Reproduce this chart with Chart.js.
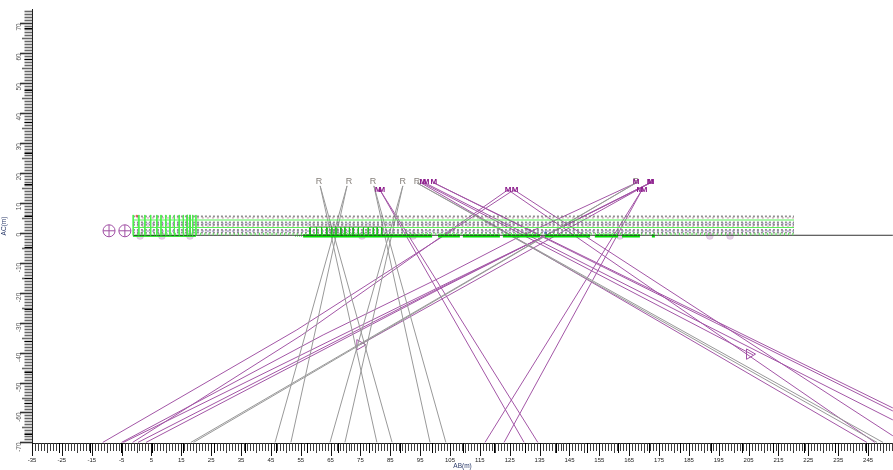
<!DOCTYPE html>
<html><head><meta charset="utf-8">
<style>html,body{margin:0;padding:0;background:#fff}canvas{display:block}</style>
<script src="https://cdn.jsdelivr.net/npm/chart.js@4"></script>
</head><body><canvas id="c" width="893" height="470"></canvas>
<script>
const xTickLabels=[-35,-25,-15,-5,5,15,25,35,45,55,65,75,85,95,105,115,125,135,145,155,165,175,185,195,205,215,225,235,245];
const yTickLabels=[70,60,50,40,30,20,10,0,-10,-20,-30,-40,-50,-60,-70];

const grayRays=[
 [[61.5,15.7],[80.5,-70]],[[61.5,15.7],[85.6,-70]],
 [[70.5,15.7],[46.4,-70]],[[70.5,15.7],[51.7,-70]],
 [[79.5,15.7],[98.3,-70]],[[79.5,15.7],[103.6,-70]],
 [[89.2,15.7],[64.8,-70]],[[89.2,15.7],[69.8,-70]],
 [[167.3,16.7],[18.2,-70]],[[167.3,16.7],[19.1,-70]],
 [[93.9,16.7],[248,-70]],[[93.9,16.7],[250,-70]]
];
const purpleRays=[
 [[169.3,14.4],[116.7,-70]],[[169.3,14.4],[123.1,-70]],
 [[81.5,14.4],[129.8,-70]],[[81.5,14.4],[134.4,-70]],
 [[95.3,16.7],[244.6,-70]],
 [[96.6,16.7],[253.3,-62.5]],
 [[99.6,16.7],[253.3,-58.5]],[[99.6,16.7],[253.3,-59.5]],
 [[124.4,14.4],[247.3,-70]],
 [[126.4,14.4],[253.3,-67.8]],
 [[95.9,16.7],[206.5,-40.8]],
 [[126.4,14.4],[103.3,-0.7],[53.7,-32.4],[-11.3,-70]],
 [[124.4,14.4],[94.3,-6.7],[55.4,-34.1],[-1.3,-70]],
 [[167.3,16.7],[127.4,-1.7],[101.6,-15],[62.5,-34.1],[-5,-70]],
 [[172,16.7],[134.1,-2.3],[101.6,-18],[-4.4,-70]],
 [[172,16.7],[134.1,-2.3],[101.6,-18.4],[0.5,-70]],
 [[172,16.7],[134.1,-2.3],[101.6,-18.7],[3.2,-70]],
 [[172,16.7],[74.8,-37.4]]
];
const seaLevel=[[-1.2,-0.8],[253.3,-0.8]];
const meshX=[-1.2,220.2];
const meshRowsGray=[5.5,3.5,2.7,1.0,0.1];
const meshRowsTint=[5.0,3.1,2.2,0.6];
const meshRowsGreen=[4.3,1.8];
const leftColumnsX=[-1.1,0.8,2.8,4.75,6.8,8.2,9.8,11.2,12.7,14.3,15.7,17,17.9,18.8,19.9];
const combX=[58.1,60.3,62,63.7,65.4,66.8,68.4,69.8,71.3,72.6,74.3,76,77.6,79.3,80.6,82.1];
const combDarkX=[58.1,63.7,68.4,72.6,82.1];
const shoreSegments=[[55.8,99],[101,108.3],[109.3,121.7],[122.7,135.1],[136.8,151.9],[153.5,161.3],[162.6,168.6],[172.6,173.6]];
const surveyMarksX=[1.2,8.5,17.9,75.5,92.6,161.9,192,198.8];
const stationsX=[-9.2,-3.9];
const stationsY=[0.7,0.7];
const triangleX=[74.8,205.3];
const triangleY=[-37.4,-40.5];
const rLabelX=[61.1,71.2,79.2,89.2,93.9,167.3];
const rLabelY=[17,17,17,17,17,17];
const mLabelX=[80.9,82.2,95.9,97,99.6,124.4,126.8,167.3,172,172.3,168.6,170];
const mLabelY=[14.4,14.4,17,17,17,14.4,14.4,17,17,17,14.4,14.4];

const pts=a=>a.map(p=>({x:p[0],y:p[1]}));
const line=(data,color,width,extra)=>Object.assign({type:'scatter',data,showLine:true,borderColor:color,borderWidth:width,pointRadius:0,fill:false,tension:0},extra||{});
const rowPts=y=>[{x:meshX[0],y},{x:meshX[1],y}];
const columns=(xs,top,bot)=>xs.flatMap(x=>[{x,y:top},{x,y:bot},{x,y:null}]);

const datasets=[];
datasets.push(line(columns(leftColumnsX,6,-0.8),'#4df04d',1));
datasets.push(line(columns(combX,1.9,-0.8),'#1bbf1b',1));
meshRowsGray.forEach(y=>datasets.push(line(rowPts(y),'rgba(105,105,105,.75)',1.8,{borderDash:[2,2]})));
meshRowsTint.forEach((y,i)=>datasets.push(line(rowPts(y),i%2?'rgba(170,150,210,.7)':'rgba(205,165,180,.7)',1.6,{borderDash:[2,3],borderDashOffset:1})));
meshRowsGreen.forEach(y=>datasets.push(line(rowPts(y),'#55ee55',1)));
datasets.push(line(rowPts(-0.4),'#55ee55',2.5,{borderDash:[1,3.2]}));
datasets.push(line(columns([17,17.9],6,-0.8),'rgba(30,60,30,.8)',1));
datasets.push(line(columns(combDarkX,1.9,-0.8),'#111',1));
datasets.push(line([{x:58.1,y:1.9},{x:82.1,y:1.9}],'#111',1));
datasets.push(line(pts(seaLevel),'#333',1));
datasets.push(line([{x:-1.2,y:-1},{x:19.9,y:-1}],'#00e000',1.6));
datasets.push(line(shoreSegments.flatMap(s=>[{x:s[0],y:-1},{x:s[1],y:-1},{x:s[1],y:null}]),'#00e000',3.2));
datasets.push(line([{x:53.1,y:-1},{x:55.8,y:-1}],'#88f088',2,{borderDash:[1,1]}));
grayRays.forEach(r=>datasets.push(line(pts(r),'#999',1)));
purpleRays.forEach(r=>datasets.push(line(pts(r),'#a356a6',1)));
datasets.push({type:'scatter',data:surveyMarksX.map(x=>({x,y:-1})),pointRadius:3.5,pointBackgroundColor:'rgba(160,90,170,.28)',pointBorderColor:'rgba(160,90,170,.3)',pointBorderWidth:.5});
datasets.push({type:'scatter',data:stationsX.map((x,i)=>({x,y:stationsY[i]})),pointStyle:'circle',pointRadius:6,pointBackgroundColor:'transparent',pointBorderColor:'#a04fa4',pointBorderWidth:1});
datasets.push({type:'scatter',data:stationsX.map((x,i)=>({x,y:stationsY[i]})),pointStyle:'cross',pointRadius:6,pointBorderColor:'#a04fa4',pointBorderWidth:1});
datasets.push({type:'scatter',data:triangleX.map((x,i)=>({x,y:triangleY[i]})),pointStyle:'triangle',pointRadius:6,rotation:-30,pointBackgroundColor:'transparent',pointBorderColor:'#a04fa4',pointBorderWidth:1});
datasets.push({type:'scatter',data:[{x:137,y:0}],pointRadius:1.4,pointBackgroundColor:'#4a4af0',pointBorderWidth:0});
datasets.push({type:'scatter',data:[{x:0.1,y:5.6}],pointRadius:1.3,pointBackgroundColor:'#f06060',pointBorderWidth:0});

const axisTicks={id:'axisTicks',beforeDatasetsDraw(chart){
  const c=chart.ctx,xs=chart.scales.x,ys=chart.scales.y,b=chart.chartArea.bottom,l=chart.chartArea.left;
  c.save();c.lineWidth=1;
  const lenOf=v=>{const m=((v+35)%10+10)%10;return m===0?13:(m===5?10:8)};
  for(let v=-35;v<=253;v++){const p=Math.round(xs.getPixelForValue(v))+.5;c.strokeStyle=lenOf(v)===13?'#111':'#3c3c3c';c.beginPath();c.moveTo(p,b);c.lineTo(p,b+lenOf(v));c.stroke();}
  for(let v=-26;v<=253;v+=10.4){const p=Math.round(xs.getPixelForValue(v))+.5;c.strokeStyle='#000';c.beginPath();c.moveTo(p,b);c.lineTo(p,b+10);c.stroke();}
  const lenY=v=>{const m=((v%10)+10)%10;return m===0?12:(m===5?10:7.5)};
  c.lineWidth=1.6;
  for(let v=-70;v<=74;v++){const p=Math.round(ys.getPixelForValue(v))+.5;c.strokeStyle=lenY(v)===12?'#333':'#666';c.beginPath();c.moveTo(l,p);c.lineTo(l-lenY(v),p);c.stroke();}
  c.lineWidth=1;
  for(let v=68.5;v>=-70;v-=10.45){const p=Math.round(ys.getPixelForValue(v))+.5;c.strokeStyle='#000';c.beginPath();c.moveTo(l,p);c.lineTo(l-7.5,p);c.stroke();}
  c.restore();
}};
const rayLabels={id:'rayLabels',afterDatasetsDraw(chart){
  const c=chart.ctx,xs=chart.scales.x,ys=chart.scales.y;
  c.save();c.textAlign='center';c.textBaseline='middle';
  c.font='9px "Liberation Sans"';c.fillStyle='#857f7a';
  rLabelX.forEach((x,i)=>c.fillText('R',xs.getPixelForValue(x),ys.getPixelForValue(rLabelY[i])));
  c.font='bold 8px "Liberation Sans"';c.fillStyle='#8b1a8b';
  mLabelX.forEach((x,i)=>c.fillText('M',xs.getPixelForValue(x),ys.getPixelForValue(mLabelY[i])));
  c.restore();
}};

new Chart(document.getElementById('c'),{
  type:'scatter',
  data:{datasets},
  plugins:[axisTicks,rayLabels],
  options:{
    responsive:false,animation:false,devicePixelRatio:1,
    layout:{autoPadding:false,padding:{top:9,right:0,bottom:0,left:0}},
    plugins:{legend:{display:false},tooltip:{enabled:false},title:{display:false}},
    scales:{
      x:{type:'linear',min:-35,max:253.35,
        afterBuildTicks:s=>{s.ticks=xTickLabels.map(value=>({value}))},
        afterFit:s=>{s.height=27;s.paddingLeft=0;s.paddingRight=0},
        grid:{drawOnChartArea:false,tickLength:14,tickColor:'transparent'},
        border:{display:true,color:'#222',width:1},
        ticks:{autoSkip:false,maxRotation:0,minRotation:0,padding:0,color:'#222',font:{family:'Liberation Sans',size:6},callback:v=>String(v)},
        title:{display:true,text:'AB(m)',color:'#2a3a6a',padding:{top:0,bottom:0},font:{family:'Liberation Sans',size:6.5}}
      },
      y:{type:'linear',min:-70.2,max:74.8,
        afterBuildTicks:s=>{s.ticks=yTickLabels.map(value=>({value}))},
        afterFit:s=>{s.width=32;s.paddingTop=0;s.paddingBottom=0},
        grid:{drawOnChartArea:false,tickLength:13,tickColor:'transparent'},
        border:{display:true,color:'#222',width:1},
        ticks:{autoSkip:false,minRotation:90,maxRotation:90,padding:0,color:'#555',font:{family:'Liberation Sans',size:6.5},callback:v=>String(v)},
        title:{display:true,text:'AC(m)',color:'#2a3a6a',padding:{top:0,bottom:0},font:{family:'Liberation Sans',size:6.5}}
      }
    }
  }
});
</script></body></html>
